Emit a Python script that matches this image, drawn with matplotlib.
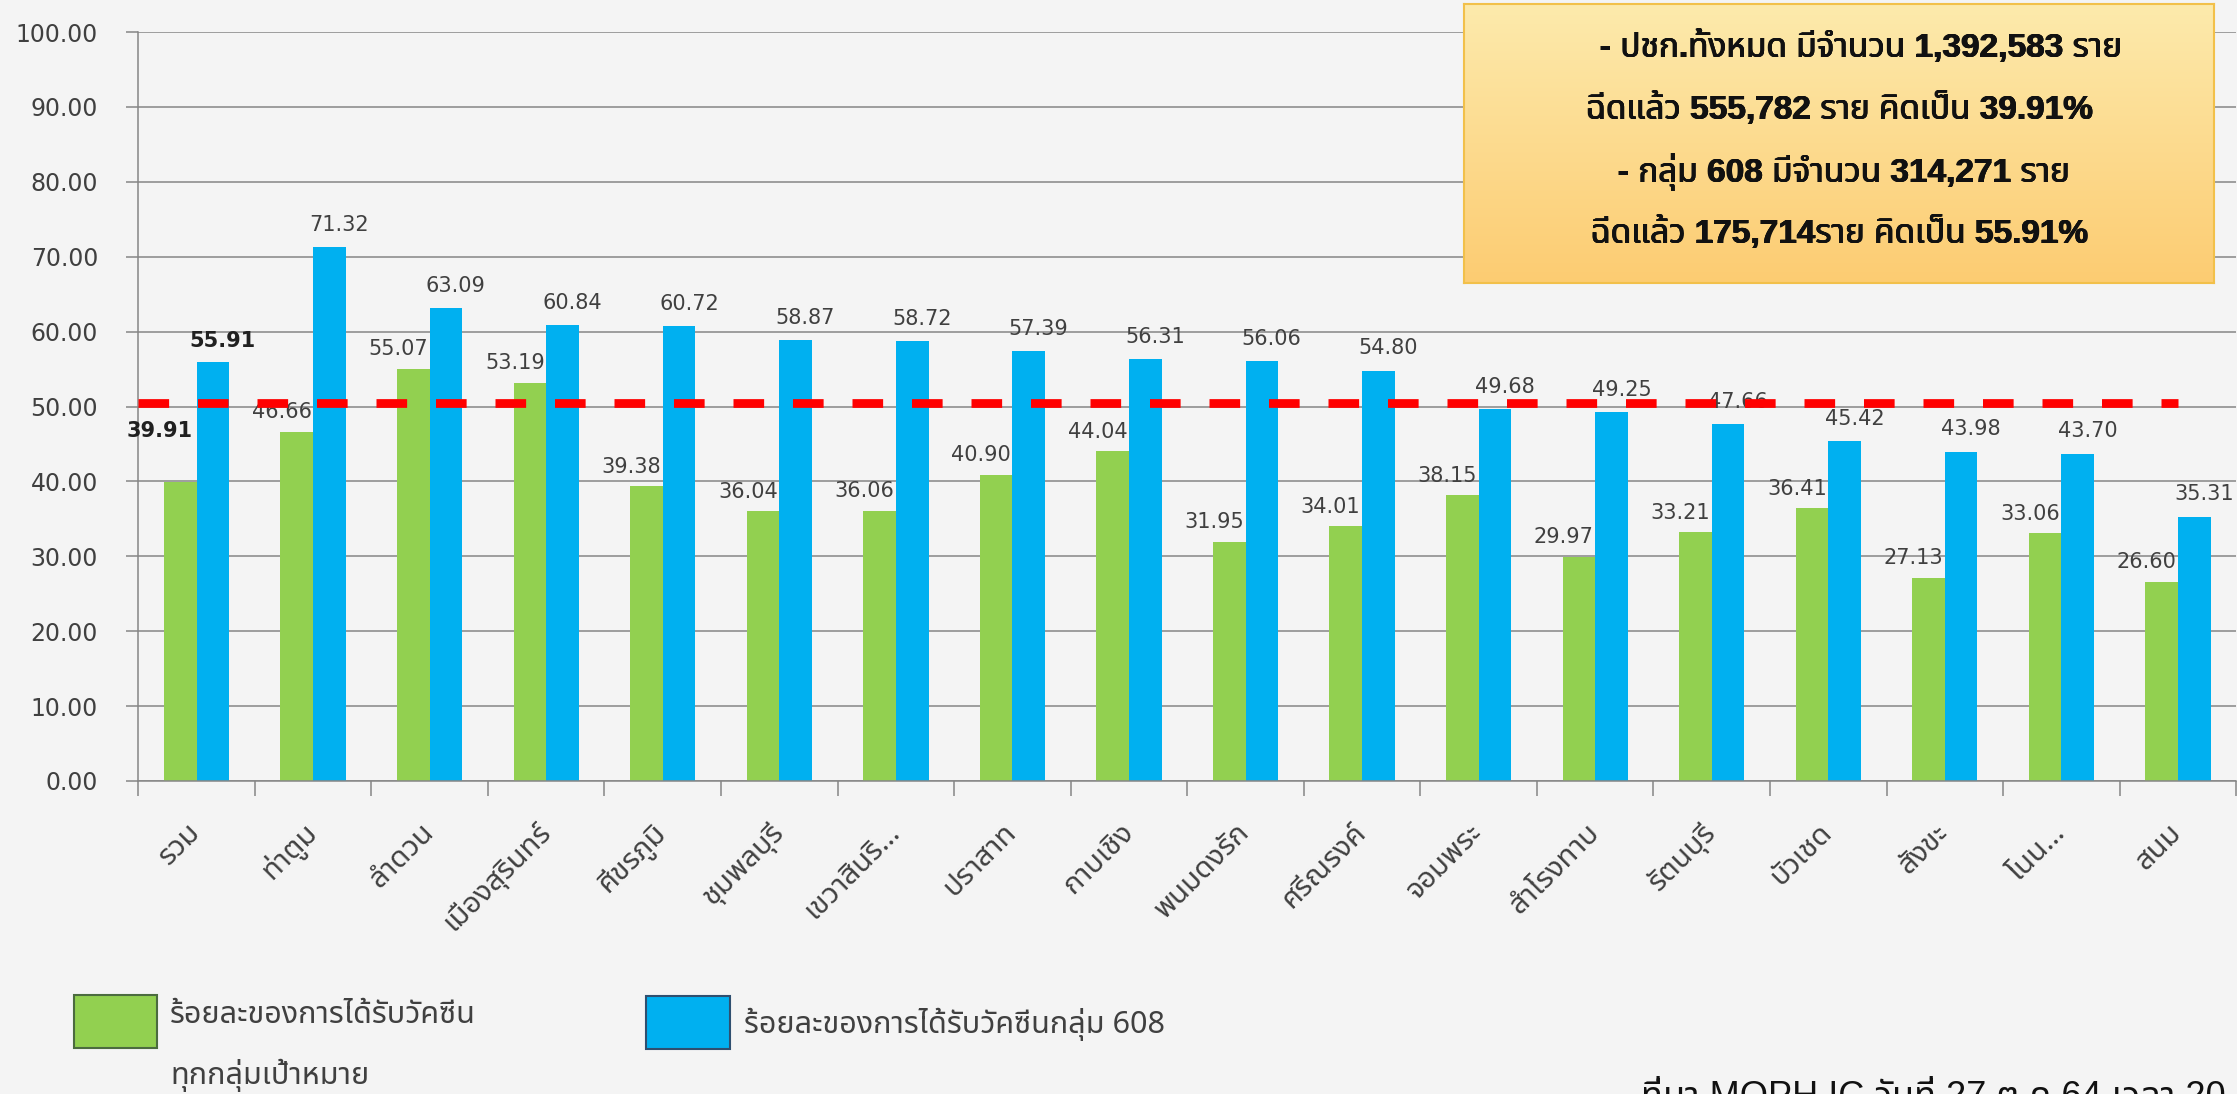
import numpy as np
import matplotlib
matplotlib.use('Agg')
import matplotlib.pyplot as plt
from matplotlib import font_manager
from matplotlib import transforms
from matplotlib.ft2font import FT2Font
from matplotlib.patches import Rectangle

districts = ['รวม', 'ท่าตูม', 'ลำดวน', 'เมืองสุรินทร์', 'ศีขรภูมิ', 'ชุมพลบุรี',
             'เขวาสินริ…', 'ปราสาท', 'กาบเชิง', 'พนมดงรัก', 'ศรีณรงค์', 'จอมพระ',
             'สำโรงทาบ', 'รัตนบุรี', 'บัวเชด', 'สังขะ', 'โนน…', 'สนม']
all_groups = [39.91, 46.66, 55.07, 53.19, 39.38, 36.04, 36.06, 40.90, 44.04,
              31.95, 34.01, 38.15, 29.97, 33.21, 36.41, 27.13, 33.06, 26.60]
group_608 = [55.91, 71.32, 63.09, 60.84, 60.72, 58.87, 58.72, 57.39, 56.31,
             56.06, 54.80, 49.68, 49.25, 47.66, 45.42, 43.98, 43.70, 35.31]
target = 50.5
yticks = np.arange(0, 101, 10)
legend_labels = ['ร้อยละของการได้รับวัคซีน', 'ทุกกลุ่มเป้าหมาย',
                 'ร้อยละของการได้รับวัคซีนกลุ่ม 608']
box_lines = [' - ปชก.ทั้งหมด มีจำนวน 1,392,583 ราย',
             'ฉีดแล้ว 555,782 ราย คิดเป็น 39.91%',
             ' - กลุ่ม 608 มีจำนวน 314,271 ราย',
             'ฉีดแล้ว 175,714ราย คิดเป็น 55.91%']
source = 'ที่มา MOPH IC วันที่ 27 ต.ค.64 เวลา 20.00 น.'


def thai_family():
    names = []
    for f in font_manager.fontManager.ttflist:
        try:
            if 0x0E01 in FT2Font(f.fname).get_charmap():
                names.append(f.name)
        except Exception:
            continue
    for pref in ['Noto Sans Thai', 'Noto Sans Thai UI', 'Tahoma', 'Loma',
                 'Garuda', 'Sarabun', 'Norasi', 'Kinnari']:
        if pref in names:
            return pref
    return names[0] if names else 'DejaVu Sans'


def has_bold(fam):
    for f in font_manager.fontManager.ttflist:
        wt = f.weight
        if isinstance(wt, str):
            wt = font_manager.weight_dict.get(wt, 400)
        if f.name == fam and wt >= 600:
            return True
    return False


THAI = thai_family()
thai_fam = [THAI, 'DejaVu Sans']
box_fam = ['Liberation Sans', THAI, 'DejaVu Sans']
# no bold Thai face -> thicken by drawing the text a few times, shifted by a pixel
if has_bold(THAI):
    shifts = [(0, 0)]
else:
    shifts = [(0, 0), (0.7, 0), (0.35, 0.35), (0.35, -0.35)]

W, H = 2237, 1094
GREEN = '#92d050'
BLUE = '#00b0f0'
GRID = '#868686'
TXT = '#404040'

fig = plt.figure(figsize=(W / 100, H / 100), dpi=100, facecolor='#f4f4f4')
ax = fig.add_axes([138.3 / W, 1 - 781 / H, (2236.2 - 138.3) / W, (781 - 32) / H])
ax.set_facecolor('none')

x = np.arange(len(districts))
w = 0.28
ax.bar(x - w / 2, all_groups, w, color=GREEN, zorder=2)
ax.bar(x + w / 2, group_608, w, color=BLUE, zorder=2)

ax.set_xlim(-0.5, len(districts) - 0.5)
ax.set_ylim(0, 100)
ax.set_yticks(yticks)
ax.set_yticklabels(['%.2f' % v for v in yticks])
ax.yaxis.grid(True, color=GRID, lw=1.1)
ax.set_axisbelow(True)
for s in ['top', 'right']:
    ax.spines[s].set_visible(False)
for s in ['left', 'bottom']:
    ax.spines[s].set_color(GRID)
    ax.spines[s].set_linewidth(1.1)

ax.set_xticks(np.arange(-0.5, len(districts)), [''] * (len(districts) + 1))
ax.set_xticks(x, districts, minor=True)
ax.tick_params(axis='x', which='major', length=11, width=1.1, color=GRID)
ax.tick_params(axis='x', which='minor', length=0, pad=34)
ax.tick_params(axis='y', length=9, width=1.1, color=GRID, pad=20,
               labelsize=17, labelcolor=TXT)
for lab in ax.get_xticklabels(minor=True):
    lab.set_rotation(45)
    lab.set_ha('right')
    lab.set_va('center')
    lab.set_rotation_mode('anchor')
    lab.set_family(thai_fam)
    lab.set_fontsize(21)
    lab.set_color(TXT)

# data labels
for i in range(len(districts)):
    if i == 0:
        ax.annotate('%.2f' % all_groups[i], (x[i] - 0.32, all_groups[i]),
                    xytext=(0, 37), textcoords='offset points', ha='center',
                    va='center', fontsize=15, fontweight='bold', color='#202020')
        ax.annotate('%.2f' % group_608[i], (x[i] + 0.225, group_608[i]),
                    xytext=(0, 15), textcoords='offset points', ha='center',
                    va='center', fontsize=15, fontweight='bold', color='#202020')
        continue
    ax.annotate('%.2f' % all_groups[i], (x[i] - 0.27, all_groups[i]),
                xytext=(0, 14), textcoords='offset points', ha='center',
                va='center', fontsize=15, color=TXT)
    ax.annotate('%.2f' % group_608[i], (x[i] + 0.225, group_608[i]),
                xytext=(0, 16), textcoords='offset points', ha='center',
                va='center', fontsize=15, color=TXT)

# target line
ax.plot([-0.5, 17.0], [target, target], color='#ff0000', lw=6.3,
        dashes=(3.5, 3.3), dash_capstyle='butt', zorder=5, clip_on=False)

# info box with gradient
bx0, by0, bx1, by1 = 1464, 4, 2214, 283
bax = fig.add_axes([bx0 / W, 1 - by1 / H, (bx1 - bx0) / W, (by1 - by0) / H])
top_c = np.array([253, 234, 172]) / 255
bot_c = np.array([252, 204, 114]) / 255
t = np.linspace(0, 1, 100)[:, None, None]
grad = top_c * (1 - t) + bot_c * t
bax.imshow(grad, aspect='auto', extent=[0, 1, 0, 1])
bax.set_xticks([])
bax.set_yticks([])
for s in bax.spines.values():
    s.set_color('#f2c04a')
    s.set_linewidth(1.5)
line_y = [47, 109, 172, 233]
for k, txt in enumerate(box_lines):
    cx = 1856 if k == 0 else 1839
    for dx, dy in shifts:
        tr = transforms.offset_copy(fig.transFigure, fig=fig, x=dx, y=dy,
                                    units='dots')
        fig.text(cx / W, 1 - line_y[k] / H, txt, ha='center', va='center',
                 fontsize=24, fontweight='bold', color='#111111',
                 family=box_fam, transform=tr)

# legend
fig.patches.append(Rectangle((74 / W, 1 - 1048 / H), 83 / W, 53 / H,
                             transform=fig.transFigure, facecolor=GREEN,
                             edgecolor='#4b6b3f', lw=1.5))
fig.patches.append(Rectangle((646 / W, 1 - 1049 / H), 84 / W, 53 / H,
                             transform=fig.transFigure, facecolor=BLUE,
                             edgecolor='#2f4f6f', lw=1.5))
fig.text(170 / W, 1 - 1015 / H, legend_labels[0], ha='left', va='center',
         fontsize=22, color=TXT, family=thai_fam)
fig.text(170 / W, 1 - 1075 / H, legend_labels[1], ha='left', va='center',
         fontsize=22, color=TXT, family=thai_fam)
fig.text(744 / W, 1 - 1024 / H, legend_labels[2], ha='left', va='center',
         fontsize=22, color=TXT, family=thai_fam)

# source note, cut by the lower edge as in the original slide
fig.text(1641 / W, -13 / H, source, ha='left', va='baseline', fontsize=26,
         color='#111111', family=['Liberation Sans', THAI, 'DejaVu Sans'])

fig.savefig('out.png', dpi=100, facecolor=fig.get_facecolor())
